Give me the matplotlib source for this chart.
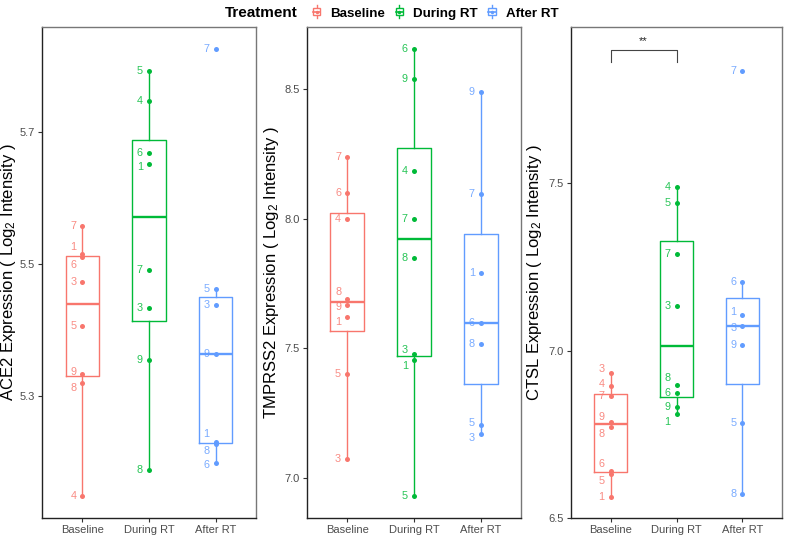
import matplotlib
matplotlib.use("Agg")
import matplotlib.pyplot as plt
from matplotlib.lines import Line2D
from matplotlib.patches import Rectangle
from matplotlib.legend_handler import HandlerBase

plt.rcParams['font.family'] = ['Liberation Sans', 'DejaVu Sans']
plt.rcParams['mathtext.fontset'] = 'custom'
plt.rcParams['mathtext.rm'] = 'Liberation Sans'
plt.rcParams['mathtext.it'] = 'Liberation Sans:italic'
plt.rcParams['mathtext.bf'] = 'Liberation Sans:bold'

groups = ["Baseline", "During RT", "After RT"]
colors = ["#F8766D", "#00BA38", "#619CFF"]
genes = ["ACE2", "TMPRSS2", "CTSL"]

# sample ids per group (patient number shown next to each dot)
ids_full = [1, 3, 4, 5, 6, 7, 8, 9]
ids_after = [1, 3, 5, 6, 7, 8, 9]

ace2_vals = [
    [5.515, 5.473, 5.149, 5.407, 5.511, 5.558, 5.320, 5.333],
    [5.652, 5.433, 5.748, 5.794, 5.669, 5.492, 5.188, 5.354],
    [5.231, 5.438, 5.463, 5.199, 5.826, 5.227, 5.364],
]
tmprss2_vals = [
    [7.622, 7.074, 7.998, 7.401, 8.098, 8.237, 7.692, 7.668],
    [7.454, 7.477, 8.185, 6.932, 8.654, 7.998, 7.848, 8.541],
    [7.791, 7.169, 7.205, 7.598, 8.095, 7.517, 8.491],
]
ctsl_vals = [
    [6.564, 6.934, 6.893, 6.630, 6.640, 6.864, 6.773, 6.786],
    [6.811, 7.134, 7.490, 7.441, 6.873, 7.290, 6.896, 6.832],
    [7.108, 7.074, 6.784, 7.204, 7.836, 6.571, 7.016],
]
all_vals = [ace2_vals, tmprss2_vals, ctsl_vals]

yticks = [[5.3, 5.5, 5.7], [7.0, 7.5, 8.0, 8.5], [6.5, 7.0, 7.5]]
ylims = [(5.115, 5.860), (6.846, 8.740), (6.5, 7.967)]

# significance bracket (CTSL, Baseline vs During RT)
sig_pair = (1, 2)
sig_y = 7.899
sig_tip = 0.038
sig_text = "**"

# vertical nudges (points) of id labels that were pushed apart
nudge = {
    (0, 0, 1): 5, (0, 0, 6): -5.5, (0, 0, 8): -3.5, (0, 0, 9): 2,
    (0, 1, 1): -2,
    (0, 2, 1): 5.5, (0, 2, 8): -5, (0, 2, 6): -2,
    (1, 0, 8): 4.5, (1, 0, 9): -1.5, (1, 0, 1): -4,
    (1, 1, 3): 3.5, (1, 1, 1): -4,
    (1, 2, 5): 1.5, (1, 2, 3): -3,
    (2, 0, 3): 3, (2, 0, 4): 2, (2, 0, 9): 3.5, (2, 0, 8): -5,
    (2, 0, 6): 5, (2, 0, 5): -5,
    (2, 1, 8): 5.5, (2, 1, 1): -5.5,
    (2, 2, 1): 1.5, (2, 2, 3): -1.5,
}

fig = plt.figure(figsize=(7.86, 5.36), dpi=100)
lefts = [0.0538, 0.3906, 0.7265]
widths = [0.2715, 0.2722, 0.2684]
label_x = [-0.116, -0.12, -0.126]

for g, gene in enumerate(genes):
    ax = fig.add_axes([lefts[g], 0.0336, widths[g], 0.916])
    vals = all_vals[g]
    bp = ax.boxplot(vals, positions=[1, 2, 3], widths=0.5, showfliers=False,
                    showcaps=False, whis=1.5)
    for k in range(3):
        c = colors[k]
        bp['boxes'][k].set(color=c, linewidth=1.0)
        bp['medians'][k].set(color=c, linewidth=1.7)
        for w in bp['whiskers'][2 * k:2 * k + 2]:
            w.set(color=c, linewidth=1.0)
        ids = ids_full if k < 2 else ids_after
        ax.plot([k + 1] * len(vals[k]), vals[k], 'o', color=c, ms=3.6,
                mec='none', zorder=3)
        for sid, v in zip(ids, vals[k]):
            dy = nudge.get((g, k, sid), 0)
            ax.annotate(str(sid), (k + 1, v), xytext=(-6.5, dy),
                        textcoords='offset points', ha='center', va='center',
                        fontsize=7.8, color=c, alpha=0.85)

    if gene == "CTSL":
        x1, x2 = sig_pair
        ax.plot([x1, x1, x2, x2], [sig_y - sig_tip, sig_y, sig_y, sig_y - sig_tip],
                color='#444444', lw=0.8)
        ax.text((x1 + x2) / 2, sig_y + 0.012, sig_text, ha='center', va='bottom',
                fontsize=8, color='#222222')

    ax.set_xlim(0.4, 3.6)
    ax.set_ylim(*ylims[g])
    ax.set_xticks([1, 2, 3])
    ax.set_xticklabels(groups)
    ax.set_yticks(yticks[g])
    ax.set_yticklabels([f"{t:.1f}" for t in yticks[g]])
    ax.tick_params(axis='both', labelsize=8, labelcolor='#4D4D4D', color='#333333',
                   length=3, width=0.8, pad=2)
    for s in ['left', 'bottom']:
        ax.spines[s].set_color('#222222')
        ax.spines[s].set_linewidth(1.0)
    for s in ['top', 'right']:
        ax.spines[s].set_color('#777777')
        ax.spines[s].set_linewidth(1.0)
    ax.set_ylabel(gene + r" Expression ( Log$_2$ Intensity )", fontsize=12)
    ax.yaxis.set_label_coords(label_x[g], 0.5)


class BoxIcon(HandlerBase):
    def create_artists(self, legend, orig_handle, xdescent, ydescent, width,
                       height, fontsize, trans):
        c = orig_handle.get_color()
        cx = -xdescent + width / 2
        cy = -ydescent + height / 2
        bw = width * 0.6
        bh = height * 0.75
        arts = [
            Line2D([cx, cx], [cy - height * 0.7, cy + height * 0.7], color=c, lw=1),
            Rectangle((cx - bw / 2, cy - bh / 2), bw, bh, facecolor='white',
                      edgecolor=c, lw=1),
            Line2D([cx - bw / 2, cx + bw / 2], [cy, cy], color=c, lw=1.2),
            Line2D([cx], [cy], marker='o', ms=2.5, color=c, mec='none'),
        ]
        for a in arts:
            a.set_transform(trans)
        return arts


handles = [Line2D([], [], color=c) for c in colors]
fig.text(0.286, 0.975, "Treatment", fontsize=11, fontweight='bold',
         ha='left', va='center')
fig.legend(handles, groups, loc='center', bbox_to_anchor=(0.553, 0.975),
           ncol=3, frameon=False, handler_map={Line2D: BoxIcon()},
           handlelength=0.9, handletextpad=0.6, columnspacing=0.6,
           prop={'weight': 'bold', 'size': 9.6}, borderpad=0)

fig.savefig("out.png", dpi=100)
